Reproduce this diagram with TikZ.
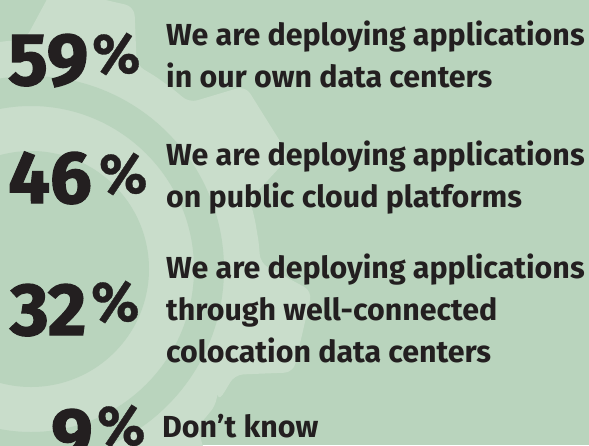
\documentclass[tikz,border=0pt]{standalone}
\usepackage{fontspec}
\setmainfont{Fira Sans}
\newfontfamily\numfont[BoldFeatures={FakeBold=1.8}]{Fira Sans}
\newfontfamily\pctfont[BoldFeatures={FakeBold=0.6}]{Fira Sans}
\definecolor{bgc}{HTML}{B9D4BD}
\definecolor{gearc}{HTML}{C9DDCB}
\definecolor{ink}{HTML}{231F20}
\begin{document}
\begin{tikzpicture}[x=1pt,y=-1pt,
  num/.style={inner sep=0pt, anchor=base west, text=ink, font=\numfont\bfseries\fontsize{74}{74}\selectfont},
  pct/.style={inner sep=0pt, anchor=base west, text=ink, font=\pctfont\bfseries\fontsize{56}{56}\selectfont},
  txt/.style={inner sep=0pt, anchor=base west, text=ink, font=\bfseries\fontsize{30.4}{42}\selectfont}]
\useasboundingbox (0,0) rectangle (589,445);
\fill[bgc] (0,0) rectangle (589,445);
\clip (0,0) rectangle (589,445);
\begin{scope}[shift={(31,269)}]
  \fill[gearc, rounded corners=9pt] (-35.5:229pt)
    \foreach \p [evaluate=\p as \a using \p-22.5,
                 evaluate=\p as \b using \p-14.5,
                 evaluate=\p as \c using \p-8.5,
                 evaluate=\p as \d using \p+8.5,
                 evaluate=\p as \e using \p+14.5,
                 evaluate=\p as \f using \p+22.5] in {-13,32,77,122,167,212,257,302}
    { arc[start angle=\a, end angle=\b, radius=229pt] -- (\c:282pt) -- (\d:282pt) -- (\e:229pt)
      arc[start angle=\e, end angle=\f, radius=229pt] } -- cycle;
  \fill[bgc, even odd rule] (0,0) circle[radius=193pt] (0,0) circle[radius=163pt];
  \fill[bgc] (0,0) circle[radius=118pt];
\end{scope}
\node[num] (n1) at (8,85) {59};
\node[pct] (p1) at (92,73) {\%};
\node[num] (n2) at (8,203) {46};
\node[pct] (p2) at (99,193) {\%};
\node[num] (n3) at (10,335) {32};
\node[pct] (p3) at (91,321) {\%};
\node[num] (n4) at (51,460) {9};
\node[pct] (p4) at (97,445) {\%};
\node[txt] (t1a) at (166,45) {We are deploying applications};
\node[txt] (t1b) at (166,87) {in our own data centers};
\node[txt] (t2a) at (166,165) {We are deploying applications};
\node[txt] (t2b) at (166,207) {on public cloud platforms};
\node[txt] (t3a) at (166,278) {We are deploying applications};
\node[txt] (t3b) at (166,320) {through well-connected};
\node[txt] (t3c) at (166,362) {colocation data centers};
\node[txt] (t4) at (162,437) {Don’t know};
\end{tikzpicture}
\end{document}
